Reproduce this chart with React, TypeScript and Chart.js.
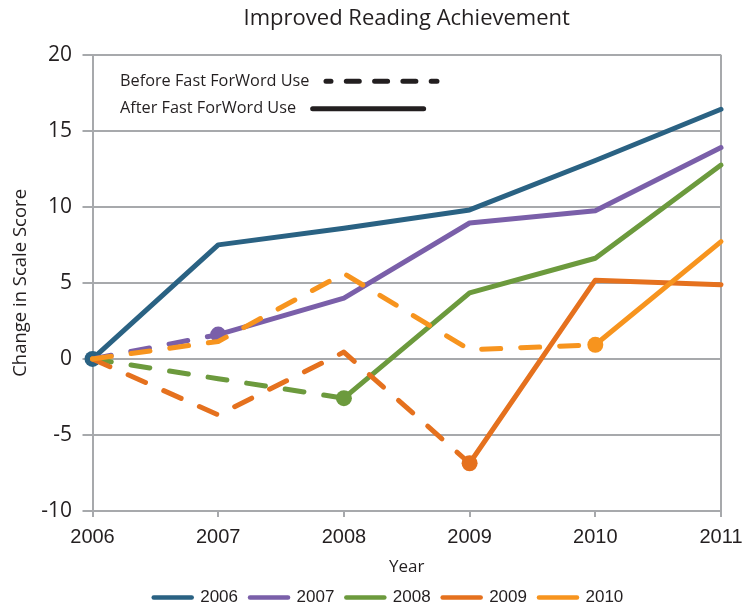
import React, { useEffect, useRef } from "react";
import { Chart, registerables } from "chart.js";

Chart.register(...registerables);

// ---- data ----
const years = ["2006", "2007", "2008", "2009", "2010", "2011"];
const cohortLabels = ["2006", "2007", "2008", "2009", "2010"];
const cohort2006 = [0, 7.5, 8.6, 9.8, 13.05, 16.42];
const cohort2007 = [0, 1.6, 4.0, 8.94, 9.75, 13.9];
const cohort2008 = [0, -1.3, -2.58, 4.34, 6.62, 12.75];
const cohort2009 = [0, -3.68, 0.45, -6.86, 5.18, 4.88];
const cohort2010 = [0, 1.15, 5.62, 0.6, 0.93, 7.71];
const cohortSeries = [cohort2006, cohort2007, cohort2008, cohort2009, cohort2010];
// index of the year each cohort started using Fast ForWord (marker position)
const startIndex = [0, 1, 2, 3, 4];
const yMin = -10;
const yMax = 20;
const yStep = 5;
const keyLabels = ["Before Fast ForWord Use", "After Fast ForWord Use"];
const chartTitle = "Improved Reading Achievement";
const xTitle = "Year";
const yTitle = "Change in Scale Score";

// ---- styles ----
const colors = ["#2a6283", "#7a5fa9", "#6c9a3d", "#e5711e", "#f7941e"];
const gridColor = "#a7a9ac";
const textColor = "#231f20";
const humanist = "'Open Sans', 'Noto Sans', sans-serif";
const grotesk = "'Liberation Sans', Arial, sans-serif";

const keyPlugin = {
  id: "fastForWordKey",
  afterDraw(chart: any) {
    const { ctx, chartArea } = chart;
    ctx.save();
    ctx.font = `16.3px ${humanist}`;
    ctx.fillStyle = textColor;
    ctx.textBaseline = "middle";
    ctx.textAlign = "left";
    const x0 = chartArea.left + 27.5;
    const rows = [
      { label: keyLabels[0], dashed: true, y: chartArea.top + 26.5 },
      { label: keyLabels[1], dashed: false, y: chartArea.top + 54 },
    ];
    rows.forEach((r) => {
      ctx.fillText(r.label, x0, r.y);
      const w = ctx.measureText(r.label).width;
      const xs = x0 + w + 16.5;
      const xe = xs + 111;
      ctx.beginPath();
      ctx.lineWidth = 5;
      ctx.lineCap = "round";
      ctx.strokeStyle = textColor;
      ctx.setLineDash(r.dashed ? [13, 15.3] : []);
      ctx.lineDashOffset = r.dashed ? 8 : 0;
      ctx.moveTo(xs, r.y);
      ctx.lineTo(xe, r.y);
      ctx.stroke();
    });
    ctx.restore();
  },
};

const legendShiftPlugin = {
  id: "legendShift",
  afterLayout(chart: any) {
    if (chart.legend) chart.legend.left = chart.chartArea.left + 49.2;
  },
};

export default function App() {
  const canvasRef = useRef<HTMLCanvasElement | null>(null);

  useEffect(() => {
    if (!canvasRef.current) return;
    const datasets = cohortSeries.map((values, i) => ({
      label: cohortLabels[i],
      data: values,
      borderColor: colors[i],
      backgroundColor: colors[i],
      borderWidth: 5,
      borderCapStyle: "round" as const,
      borderJoinStyle: "round" as const,
      tension: 0,
      clip: false as const,
      order: cohortLabels.length - i,
      pointRadius: years.map((_, j) => (j === startIndex[i] ? 8 : 0)),
      pointHoverRadius: years.map((_, j) => (j === startIndex[i] ? 8 : 0)),
      pointBorderWidth: 0,
      pointBackgroundColor: colors[i],
      segment: {
        borderDash: (ctx: any) => (ctx.p1DataIndex <= startIndex[i] ? [19, 20] : undefined),
      },
    }));

    const chart = new Chart(canvasRef.current, {
      type: "line",
      data: { labels: years, datasets },
      plugins: [keyPlugin, legendShiftPlugin],
      options: {
        responsive: false,
        animation: false,
        layout: { padding: { left: 0, right: 31, top: 0, bottom: -9 } },
        plugins: {
          title: {
            display: true,
            text: chartTitle,
            fullSize: false,
            color: textColor,
            font: { family: humanist, size: 22, weight: "normal" },
            padding: { top: 6, bottom: 22.4 },
          },
          legend: {
            position: "bottom",
            align: "start",
            labels: {
              usePointStyle: true,
              pointStyleWidth: 38,
              padding: 12,
              color: textColor,
              font: { family: grotesk, size: 17 },
              generateLabels: () =>
                cohortLabels.map((t, i) => ({
                  text: t,
                  fillStyle: colors[i],
                  strokeStyle: colors[i],
                  lineWidth: 4.5,
                  lineCap: "round",
                  pointStyle: "line",
                  hidden: false,
                  datasetIndex: i,
                  fontColor: textColor,
                })),
            },
          },
          tooltip: { enabled: false },
        },
        scales: {
          x: {
            type: "category",
            offset: false,
            grid: {
              color: (ctx: any) => (ctx.index === years.length - 1 ? gridColor : "rgba(0,0,0,0)"),
              lineWidth: 2,
              tickColor: gridColor,
              tickLength: 6,
            },
            border: { display: true, color: gridColor, width: 2 },
            ticks: {
              color: textColor,
              font: { family: grotesk, size: 20 },
              padding: 8.3,
              maxRotation: 0,
              autoSkip: false,
            },
            title: {
              display: true,
              text: xTitle,
              color: textColor,
              font: { family: humanist, size: 17 },
              padding: { top: 0, bottom: 0 },
            },
            afterFit: (s: any) => {
              s.height = 66;
            },
          },
          y: {
            min: yMin,
            max: yMax,
            ticks: {
              stepSize: yStep,
              color: textColor,
              font: { family: humanist, size: 21 },
              padding: 10.5,
            },
            grid: { color: gridColor, lineWidth: 2, tickLength: 10, tickColor: gridColor },
            border: { color: gridColor, width: 2 },
            title: {
              display: true,
              text: yTitle,
              color: textColor,
              font: { family: humanist, size: 18.5 },
              padding: { top: 10, bottom: 0 },
            },
            afterFit: (s: any) => {
              s.width = 92.5;
            },
          },
        },
      },
    } as any);

    return () => chart.destroy();
  }, []);

  return (
    <div style={{ position: "absolute", left: 0, top: 0, width: 752, height: 607, background: "#fff" }}>
      <canvas ref={canvasRef} width={752} height={607} style={{ display: "block" }} />
    </div>
  );
}
